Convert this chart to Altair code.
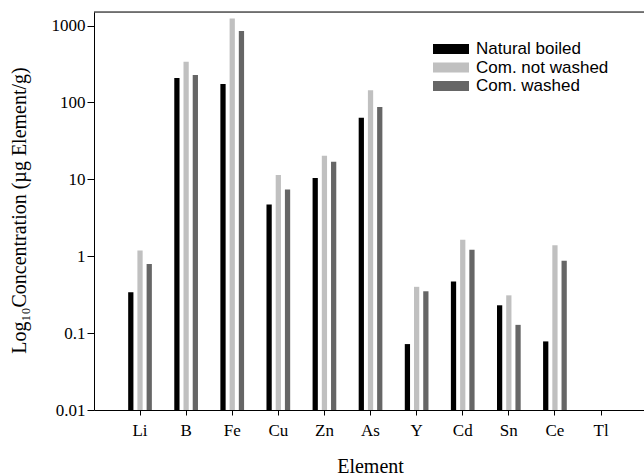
import altair as alt
import pandas as pd

elements = ["Li", "B", "Fe", "Cu", "Zn", "As", "Y", "Cd", "Sn", "Ce", "Tl"]
series = ["Natural boiled", "Com. not washed", "Com. washed"]
natural_boiled = [0.34, 208, 174, 4.7, 10.4, 63, 0.072, 0.47, 0.23, 0.078, None]
com_not_washed = [1.19, 337, 1233, 11.4, 20.3, 144, 0.40, 1.64, 0.31, 1.39, None]
com_washed = [0.79, 228, 852, 7.4, 16.9, 87, 0.35, 1.21, 0.128, 0.87, None]
colors = ["#000000", "#c0c0c0", "#666666"]
y_ticks = [0.01, 0.1, 1, 10, 100, 1000]
y_floor = 0.01

rows = []
for name, vals in zip(series, [natural_boiled, com_not_washed, com_washed]):
    for el, v in zip(elements, vals):
        rows.append({"Element": el, "Series": name, "Value": v})
df = pd.DataFrame(rows)

W, H = 550, 398
serif = "Liberation Serif"
sans = "Liberation Sans"

bars = alt.Chart(df).mark_bar().encode(
    x=alt.X(
        "Element:N",
        sort=elements,
        scale=alt.Scale(domain=elements, paddingInner=0.4, paddingOuter=0.665, align=0.525),
        axis=alt.Axis(
            title="Element", labelAngle=0, tickSize=5, labelPadding=7,
            labelFont=serif, labelFontSize=17, labelColor="#000",
            titleFont=serif, titleFontSize=20, titleFontWeight="normal", titleColor="#000",
            titleX=276, titleY=62, titleBaseline="alphabetic", titleAlign="center",
            domainColor="#000", tickColor="#000", grid=False,
        ),
    ),
    xOffset=alt.XOffset(
        "Series:N", sort=series,
        scale=alt.Scale(domain=series, paddingInner=0.43, paddingOuter=0.215),
    ),
    y=alt.Y(
        "Value:Q",
        scale=alt.Scale(type="log", domain=[0.01, 1500], nice=False),
        axis=alt.Axis(
            title="Log₁₀Concentration (µg Element/g)", values=y_ticks, format="~g",
            tickSize=7, labelPadding=2, grid=False,
            labelFont=serif, labelFontSize=17, labelColor="#000",
            titleFont=serif, titleFontSize=20, titleFontWeight="normal", titleColor="#000",
            titleX=-69, titleY=198, titleAlign="center", titleBaseline="alphabetic",
            domainColor="#000", tickColor="#000",
        ),
    ),
    y2=alt.Y2(datum=y_floor),
    color=alt.Color(
        "Series:N", sort=series,
        scale=alt.Scale(domain=series, range=colors),
        legend=alt.Legend(
            title=None, orient="none", legendX=348, legendY=28,
            symbolType="M-2,-0.55L2,-0.55L2,0.55L-2,0.55Z", symbolSize=324,
            symbolStrokeWidth=0, symbolOpacity=1,
            labelOffset=16, labelFont=sans, labelFontSize=17, labelColor="#000",
            rowPadding=1.5, padding=0,
        ),
    ),
).transform_filter("isValid(datum.Value)")

top_line = alt.Chart(pd.DataFrame({"a": [0]})).mark_rule(color="#000", strokeWidth=1).encode(
    x=alt.value(0), x2=alt.value(W), y=alt.value(0)
)

chart = alt.layer(bars, top_line).properties(
    width=W, height=H,
    autosize=alt.AutoSizeParams(type="none"),
    padding={"left": 94, "top": 12, "right": 0, "bottom": 65},
).configure_view(stroke=None).configure(background="white")

chart.save("out.html", embed_options={"renderer": "svg", "actions": False})
